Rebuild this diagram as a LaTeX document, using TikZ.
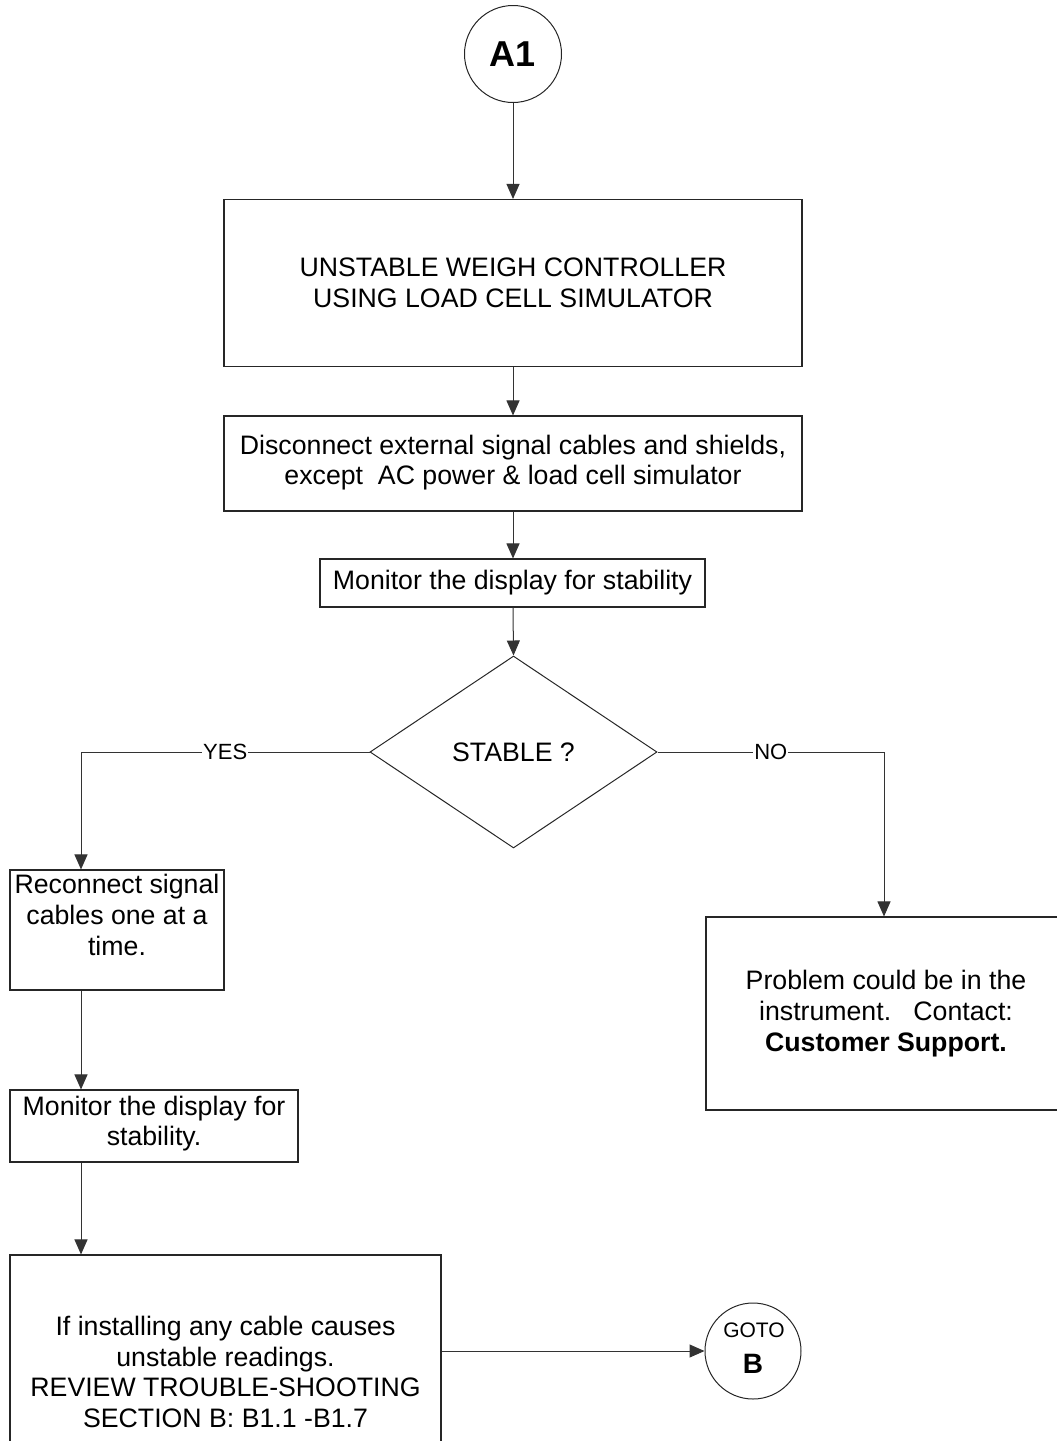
\documentclass[tikz,border=0pt]{standalone}
\usepackage{fontspec}
\setmainfont{Liberation Sans}
\usetikzlibrary{arrows.meta,shapes.geometric}
\begin{document}
\begin{tikzpicture}[x=1pt,y=-1pt,
  lin/.style={draw=black!80,line width=1pt},
  arr/.style={lin,-{Triangle[length=15pt,width=13pt]}},
  box/.style={draw=black!85,line width=1.1pt,rectangle,inner sep=0pt,align=center,
    font=\fontsize{26.7}{30.7}\selectfont},
  txt/.style={inner sep=0pt,align=center,font=\fontsize{26.7}{30.7}\selectfont},
  lbl/.style={fill=white,inner sep=1pt,font=\fontsize{22}{24}\selectfont}]
\clip (0,0) rectangle (1057,1441);
\node[draw=black!85,line width=1pt,circle,minimum size=97pt,inner sep=0pt,
  font=\fontsize{36}{40}\selectfont\bfseries] (a1) at (513,54) {A1};
\node[box,minimum width=578pt,minimum height=167pt] (b1) at (513,283)
  {UNSTABLE WEIGH CONTROLLER\\USING LOAD CELL SIMULATOR};
\node[box,minimum width=578pt,minimum height=95pt] (b2) at (513,463.5) {};
\node[txt] (t2) at (513,462.5) {Disconnect external signal cables and shields,\\except\ \ AC power \& load cell simulator};
\node[box,minimum width=385pt,minimum height=48pt] (b3) at (512.5,583)
  {Monitor the display for stability};
\node[draw=black!85,line width=1pt,diamond,minimum width=287pt,minimum height=192pt,
  inner sep=0pt,font=\fontsize{26.7}{30.7}\selectfont] (dia) at (513.5,752) {STABLE ?};
\coordinate (yesturn) at (81,752);
\coordinate (noturn) at (884,752);
\node[box,minimum width=214pt,minimum height=120pt] (b4) at (117,930) {};
\node[txt] (t4) at (117,915) {Reconnect signal\\cables one at a\\time.};
\node[box,minimum width=360pt,minimum height=193pt] (b5) at (886,1013.5)
  {Problem could be in the\\instrument.\ \ \ Contact:\\\textbf{Customer Support.}};
\node[box,minimum width=288pt,minimum height=72pt] (b6) at (154,1126) {};
\node[txt] (t6) at (154,1123.5) {Monitor the display for\\stability.};
\node[box,minimum width=431pt,minimum height=234pt] (b7) at (225.5,1372)
  {If installing any cable causes\\unstable readings.\\REVIEW TROUBLE-SHOOTING\\SECTION B: B1.1 -B1.7};
\node[draw=black!85,line width=1pt,circle,minimum size=96pt,inner sep=0pt] (goto) at (753,1351) {};
\node[inner sep=0pt,font=\fontsize{21}{23}\selectfont] (gt) at (754,1330) {GOTO};
\node[inner sep=0pt,font=\fontsize{28}{30}\selectfont\bfseries] (gb) at (753,1364) {B};
\draw[arr] (a1) -- (b1);
\draw[arr] (b1) -- (b2);
\draw[arr] (b2.south) -- (b3.north -| b2.south);
\draw[arr] (b3.south -| b2.south) -- (dia.north);
\draw[arr] (dia.west) -- node[lbl]{YES} (yesturn) -- (b4.north -| yesturn);
\draw[arr] (dia.east) -- node[lbl]{NO} (noturn) -- (b5.north -| noturn);
\draw[arr] (b4.south -| yesturn) -- (b6.north -| yesturn);
\draw[arr] (b6.south -| yesturn) -- (b7.north -| yesturn);
\draw[arr] (goto.west -| b7.east) -- (goto.west);
\end{tikzpicture}
\end{document}
